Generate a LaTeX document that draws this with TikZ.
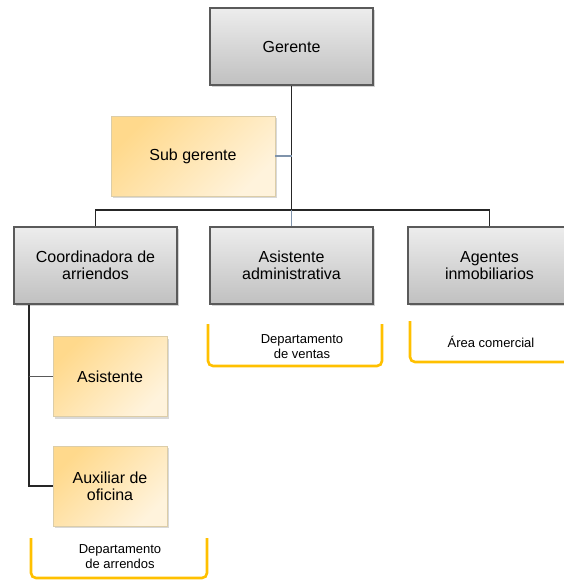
\documentclass[tikz,border=0pt]{standalone}
\usepackage{fontspec}
\setmainfont{Liberation Sans}
\usetikzlibrary{shadows}
\definecolor{boxline}{HTML}{5A5A5A}
\definecolor{grtop}{HTML}{EDEDED}
\definecolor{grbot}{HTML}{C0C0C0}
\definecolor{yltop}{HTML}{FFD98C}
\definecolor{ylbot}{HTML}{FFF3DC}
\definecolor{ylline}{HTML}{DCCDA8}
\definecolor{brkcol}{HTML}{FFC000}
\definecolor{linkblue}{HTML}{7F93AB}
\begin{document}
\begin{tikzpicture}[x=1pt,y=1pt,
    graybox/.style={draw=boxline,line width=1.3pt,top color=grtop,bottom color=grbot,
        minimum width=163pt,minimum height=77pt,align=center,
        font=\fontsize{16}{17}\selectfont,
        drop shadow={shadow xshift=2pt,shadow yshift=-2pt,opacity=0.35}},
    yelbox/.style={draw=ylline,line width=0.8pt,top color=yltop,bottom color=ylbot,shading angle=45,
        minimum height=80pt,align=center,
        font=\fontsize{16}{17}\selectfont,
        drop shadow={shadow xshift=2pt,shadow yshift=-2pt,opacity=0.3}},
    link/.style={line width=1.8pt,black!85},
    brk/.style={draw=brkcol,line width=2.6pt,rounded corners=5pt},
    brktext/.style={align=center,font=\fontsize{13}{15}\selectfont}]
    \useasboundingbox (0,0) rectangle (563,-581);
    % boxes
    \node[graybox] (ger) at (291.5,-46.5) {Gerente};
    \node[yelbox,minimum width=164pt] (sub) at (193,-156) {Sub gerente};
    \node[graybox] (coord) at (95.5,-265.5) {Coordinadora de\\arriendos};
    \node[graybox] (adm) at (291.5,-265.5) {Asistente\\administrativa};
    \node[graybox] (agen) at (489.5,-265.5) {Agentes\\inmobiliarios};
    \node[yelbox,minimum width=114pt] (asis) at (110,-376.5) {Asistente};
    \node[yelbox,minimum width=114pt] (aux) at (110,-486) {Auxiliar de\\oficina};
    % connectors
    \coordinate (bar) at (291.5,-210);
    \coordinate (lt) at ([xshift=16pt]coord.south west);
    \draw[link] (ger.south) -- (bar);
    \draw[link] (coord.north) |- (bar) -| (agen.north);
    \draw[line width=1.8pt,linkblue] (bar) -- (adm.north);
    \draw[line width=1.6pt,linkblue] (sub.east) -- (sub.east -| ger.south);
    \draw[link] (lt) |- (aux.west);
    \draw[link,black!65] (asis.west) -- (asis.west -| lt);
    % brackets
    \draw[brk] (31,-538) -- (31,-578) -- (207,-578) -- (207,-538);
    \draw[brk] (208,-324) -- (208,-366) -- (382,-366) -- (382,-324);
    \draw[brk] (410,-321) -- (410,-362) -- (575,-362);
    \node[brktext] (darr) at (120,-557) {Departamento\\de arrendos};
    \node[brktext] (dven) at (302,-346.5) {Departamento\\de ventas};
    \node[brktext] (acom) at (491,-342) {Área comercial};
\end{tikzpicture}
\end{document}
